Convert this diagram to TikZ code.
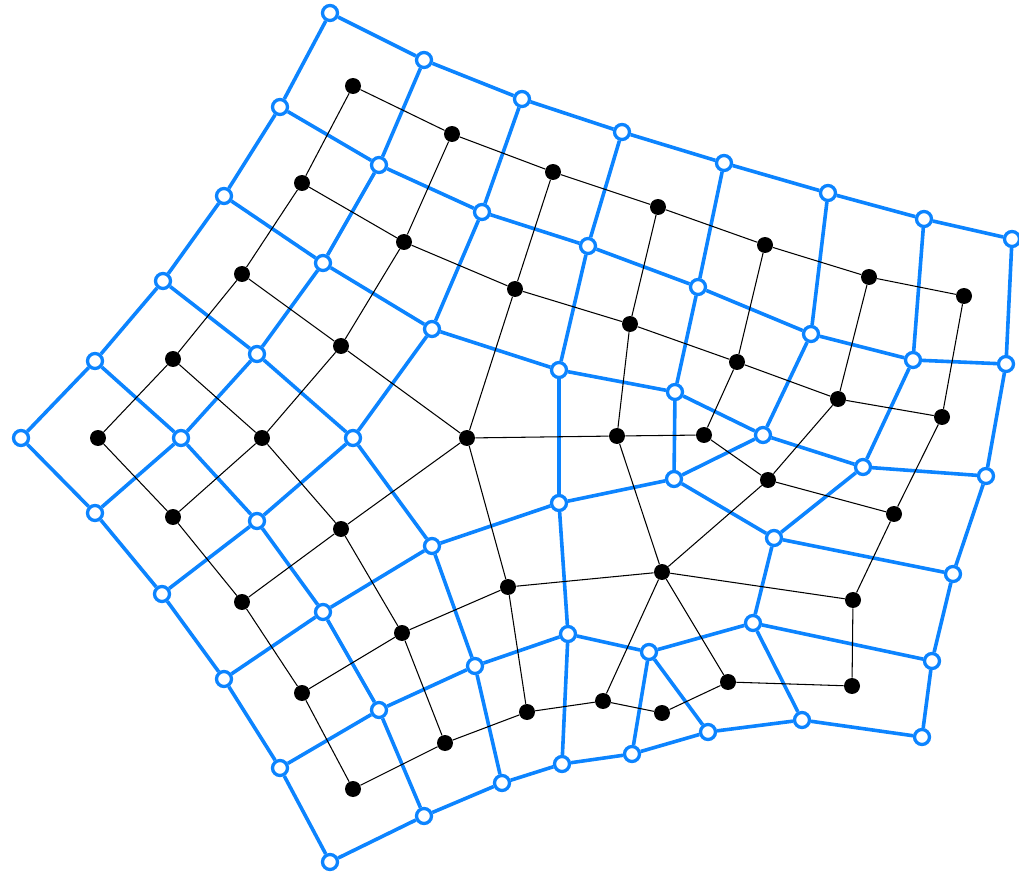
\documentclass[tikz,border=0pt]{standalone}
\usepackage{tikz}
\usetikzlibrary{backgrounds}
\definecolor{netblue}{RGB}{12,132,255}

\begin{document}
\begin{tikzpicture}[
    x=0.02cm, y=-0.02cm,
    primal/.style={circle, fill=black, inner sep=0pt, minimum size=0.32cm},
    dual/.style={circle, fill=white, draw=netblue, line width=0.066cm, inner sep=0pt, minimum size=0.3cm},
    pedge/.style={black, line width=0.6pt},
    dedge/.style={netblue, line width=0.072cm}
  ]
  \useasboundingbox (0,0) rectangle (1019,875);

  % Dual vertices (blue)
  \node[dual] (A1) at (330,13) {};  \node[dual] (A2) at (424,60) {};
  \node[dual] (A3) at (522,99) {};  \node[dual] (A4) at (622,132) {};
  \node[dual] (A5) at (724,163) {}; \node[dual] (A6) at (828,193) {};
  \node[dual] (A7) at (924,219) {}; \node[dual] (A8) at (1012,239) {};

  \node[dual] (B1) at (280,107) {}; \node[dual] (B2) at (379,165) {};
  \node[dual] (B3) at (482,212) {}; \node[dual] (B4) at (588,246) {};
  \node[dual] (B5) at (698,287) {}; \node[dual] (B6) at (811,334) {};
  \node[dual] (B7) at (913,360) {}; \node[dual] (B8) at (1006,364) {};

  \node[dual] (C1) at (224,196) {}; \node[dual] (C2) at (323,263) {};
  \node[dual] (C3) at (432,329) {}; \node[dual] (C4) at (559,370) {};
  \node[dual] (C5) at (675,392) {}; \node[dual] (C6) at (763,435) {};
  \node[dual] (C7) at (863,467) {}; \node[dual] (C8) at (986,476) {};

  \node[dual] (D1) at (163,281) {}; \node[dual] (D2) at (257,354) {};
  \node[dual] (D3) at (353,438) {}; \node[dual] (D4) at (432,546) {};
  \node[dual] (D5) at (559,503) {}; \node[dual] (D6) at (674,479) {};
  \node[dual] (D7) at (774,538) {}; \node[dual] (D8) at (953,574) {};

  \node[dual] (E1) at (95,361) {};  \node[dual] (E2) at (181,438) {};
  \node[dual] (E3) at (257,521) {}; \node[dual] (E4) at (323,612) {};
  \node[dual] (E5) at (475,666) {}; \node[dual] (E6) at (568,634) {};
  \node[dual] (E7) at (649,652) {}; \node[dual] (E8) at (753,623) {};
  \node[dual] (E9) at (932,661) {};

  \node[dual] (F1) at (21,438) {};  \node[dual] (F2) at (95,513) {};
  \node[dual] (F3) at (162,594) {}; \node[dual] (F4) at (224,679) {};
  \node[dual] (F5) at (280,768) {}; \node[dual] (F6) at (330,862) {};

  \node[dual] (G0) at (379,710) {}; \node[dual] (G1) at (424,816) {};
  \node[dual] (G2) at (502,783) {}; \node[dual] (G3) at (562,764) {};
  \node[dual] (G4) at (632,754) {}; \node[dual] (G5) at (708,732) {};
  \node[dual] (G6) at (802,720) {}; \node[dual] (G7) at (922,737) {};

  % Dual edges
  \begin{scope}[on background layer]
    \draw[dedge] (A1) -- (A2) -- (A3) -- (A4) -- (A5) -- (A6) -- (A7) -- (A8);
    \draw[dedge] (B1) -- (B2) -- (B3) -- (B4) -- (B5) -- (B6) -- (B7) -- (B8);
    \draw[dedge] (C1) -- (C2) -- (C3) -- (C4) -- (C5) -- (C6) -- (C7) -- (C8);
    \draw[dedge] (D1) -- (D2) -- (D3) -- (D4) -- (D5) -- (D6) -- (C6);
    \draw[dedge] (D7) -- (D8);
    \draw[dedge] (E1) -- (E2) -- (E3) -- (E4) -- (G0) -- (G1);
    \draw[dedge] (D4) -- (E5) -- (G2);
    \draw[dedge] (F5) -- (G0) -- (E5) -- (E6) -- (E7) -- (E8) -- (E9);
    \draw[dedge] (F6) -- (G1) -- (G2) -- (G3) -- (G4) -- (G5) -- (G6) -- (G7);
    \draw[dedge] (A1) -- (B1) -- (C1) -- (D1) -- (E1) -- (F1) -- (F2) -- (F3) -- (F4) -- (F5) -- (F6);
    \draw[dedge] (A2) -- (B2) -- (C2) -- (D2) -- (E2) -- (F2);
    \draw[dedge] (A3) -- (B3) -- (C3) -- (D3) -- (E3) -- (F3);
    \draw[dedge] (F4) -- (E4) -- (D4);
    \draw[dedge] (A4) -- (B4) -- (C4) -- (D5) -- (E6) -- (G3);
    \draw[dedge] (A5) -- (B5) -- (C5) -- (D6) -- (D7) -- (E8) -- (G6);
    \draw[dedge] (A6) -- (B6) -- (C6);
    \draw[dedge] (A7) -- (B7) -- (C7) -- (D7);
    \draw[dedge] (A8) -- (B8) -- (C8) -- (D8) -- (E9) -- (G7);
    \draw[dedge] (G4) -- (E7) -- (G5);
  \end{scope}

  % Primal vertices (black)
  \node[primal] (a1) at (353,86) {};  \node[primal] (a2) at (452,134) {};
  \node[primal] (a3) at (553,172) {}; \node[primal] (a4) at (658,207) {};
  \node[primal] (a5) at (765,245) {}; \node[primal] (a6) at (869,277) {};
  \node[primal] (a7) at (964,296) {};

  \node[primal] (b1) at (302,183) {}; \node[primal] (b2) at (404,242) {};
  \node[primal] (b3) at (515,289) {}; \node[primal] (b4) at (630,324) {};
  \node[primal] (b5) at (737,362) {}; \node[primal] (b6) at (838,399) {};
  \node[primal] (b7) at (942,417) {};

  \node[primal] (c1) at (242,274) {}; \node[primal] (c2) at (341,346) {};
  \node[primal] (d1) at (173,359) {}; \node[primal] (d2) at (262,438) {};
  \node[primal] (e1) at (98,438) {};
  \node[primal] (hub) at (467,438) {};
  \node[primal] (m1) at (617,436) {}; \node[primal] (m2) at (704,435) {};
  \node[primal] (n1) at (768,480) {}; \node[primal] (n2) at (894,514) {};
  \node[primal] (star) at (662,572) {};
  \node[primal] (k1) at (508,587) {};
  \node[primal] (y1) at (853,600) {}; \node[primal] (y2) at (852,686) {};
  \node[primal] (z1) at (728,682) {}; \node[primal] (z2) at (662,713) {};
  \node[primal] (z3) at (603,701) {}; \node[primal] (z4) at (527,712) {};

  \node[primal] (f1) at (173,517) {}; \node[primal] (f2) at (341,529) {};
  \node[primal] (g1) at (242,602) {}; \node[primal] (g2) at (402,633) {};
  \node[primal] (h1) at (302,693) {}; \node[primal] (h2) at (445,743) {};
  \node[primal] (i1) at (353,789) {};

  % Primal edges
  \draw[pedge] (a1) -- (a2) -- (a3) -- (a4) -- (a5) -- (a6) -- (a7);
  \draw[pedge] (b1) -- (b2) -- (b3) -- (b4) -- (b5) -- (b6) -- (b7);
  \draw[pedge] (c1) -- (c2) -- (hub);
  \draw[pedge] (d1) -- (d2);
  \draw[pedge] (a1) -- (b1) -- (c1) -- (d1) -- (e1);
  \draw[pedge] (a2) -- (b2) -- (c2) -- (d2);
  \draw[pedge] (a3) -- (b3) -- (hub);
  \draw[pedge] (a4) -- (b4) -- (m1);
  \draw[pedge] (a5) -- (b5) -- (m2);
  \draw[pedge] (a6) -- (b6) -- (n1);
  \draw[pedge] (a7) -- (b7) -- (n2);
  \draw[pedge] (hub) -- (m1) -- (m2) -- (n1) -- (n2) -- (y1) -- (y2) -- (z1) -- (z2) -- (z3) -- (z4) -- (k1);
  \draw[pedge] (n1) -- (star) -- (y1);
  \draw[pedge] (m1) -- (star) -- (z1);
  \draw[pedge] (k1) -- (star) -- (z3);
  \draw[pedge] (hub) -- (k1);
  \draw[pedge] (z4) -- (h2);
  \draw[pedge] (e1) -- (f1) -- (d2) -- (f2) -- (hub);
  \draw[pedge] (f1) -- (g1) -- (f2) -- (g2) -- (k1);
  \draw[pedge] (g1) -- (h1) -- (g2) -- (h2);
  \draw[pedge] (h1) -- (i1) -- (h2);
\end{tikzpicture}
\end{document}
